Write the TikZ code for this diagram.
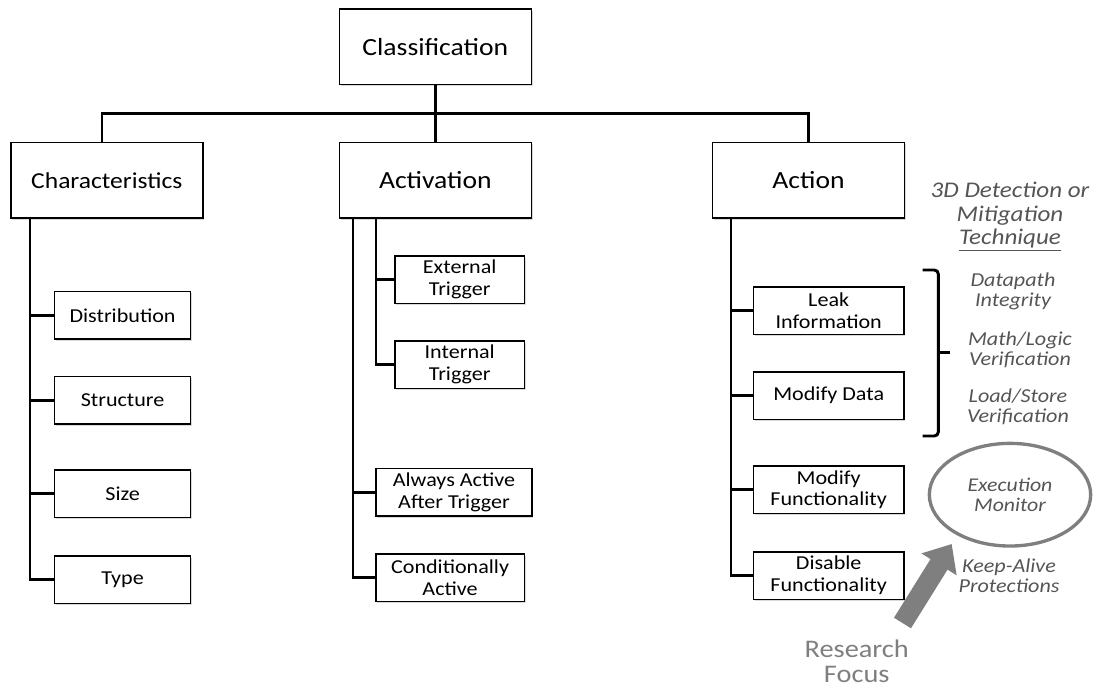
\documentclass[tikz,border=0pt]{standalone}
\usepackage{fontspec}
\setmainfont{Carlito}[FakeStretch=1.12]
\usetikzlibrary{shadows,arrows.meta,shapes.geometric}
\definecolor{notegray}{HTML}{555555}
\definecolor{focusgray}{HTML}{7F7F7F}
\begin{document}
\begin{tikzpicture}[x=0.75pt,y=-0.75pt,
  basebox/.style={draw, line width=1.1pt, fill=white, inner sep=0pt, align=center,
    drop shadow={shadow xshift=1pt, shadow yshift=-1.2pt, opacity=0.3}},
  bigbox/.style={basebox, minimum width=144pt, minimum height=56.6pt, font=\fontsize{18.5}{20}\selectfont},
  smallbox/.style={basebox, minimum height=35.6pt, font=\fontsize{14.8}{16.3}\selectfont},
  conn/.style={line width=2.2pt, line join=miter},
  brack/.style={line width=2.2pt, rounded corners=3pt},
  note/.style={text=notegray, align=center, inner sep=0pt, font=\itshape\fontsize{14.8}{15}\selectfont},
  head/.style={text=notegray, align=center, inner sep=0pt, font=\itshape\fontsize{16.8}{17.5}\selectfont},
  ellip/.style={ellipse, draw=focusgray, line width=2.5pt, minimum width=121pt, minimum height=77pt,
    inner sep=0pt, align=center, text=notegray, font=\itshape\fontsize{14.6}{15}\selectfont},
  focus/.style={text=focusgray, align=center, inner sep=0pt, font=\fontsize{19}{18.75}\selectfont},
  bigarrow/.style={draw=focusgray, line width=15pt, -{Triangle[width=30pt,length=18pt]}}
]
\useasboundingbox (0,0) rectangle (1096,688);

% top levels
\node[bigbox] (cls) at (435.3,46.7) {Classification};
\node[bigbox, font=\fontsize{17.1}{20}\selectfont] (char) at (106.8,180.5) {Characteristics};
\node[bigbox] (act) at (435.3,180.5) {Activation};
\node[bigbox] (action) at (808.5,180.5) {Action};

% characteristics children
\node[smallbox, minimum width=102pt] (dist) at (122.6,315.3) {Distribution};
\node[smallbox, minimum width=102pt] (struc) at (122.6,400.2) {Structure};
\node[smallbox, minimum width=102pt] (size) at (122.6,493.8) {Size};
\node[smallbox, minimum width=102pt] (type) at (122.6,579.8) {Type};

% activation children
\node[smallbox, minimum width=97pt] (ext) at (459.7,279.7) {External\\Trigger};
\node[smallbox, minimum width=97pt] (int) at (459.7,364.7) {Internal\\Trigger};
\node[smallbox, minimum width=117.2pt] (always) at (454,492.2) {Always Active\\After Trigger};
\node[smallbox, minimum width=111.5pt] (cond) at (450.1,577.9) {Conditionally\\Active};

% action children
\node[smallbox, minimum width=113pt] (leak) at (828.7,310.5) {Leak\\Information};
\node[smallbox, minimum width=113pt] (mdata) at (828.7,395.5) {Modify Data};
\node[smallbox, minimum width=113pt] (mfunc) at (828.7,489.7) {Modify\\Functionality};
\node[smallbox, minimum width=113pt] (disable) at (828.7,575.5) {Disable\\Functionality};

% bus
\coordinate (busL) at (102,113.5);
\coordinate (busR) at (808.5,113.5);
\draw[conn] (cls.south) -- (act.north);
\draw[conn] (char.north -| busL) -- (busL) -- (busR) -- (action.north);

% characteristics stem
\coordinate (cst) at (30,0);
\draw[conn] (cst |- char.south) |- (type.west);
\draw[conn] (cst |- dist.west) -- (dist.west);
\draw[conn] (cst |- struc.west) -- (struc.west);
\draw[conn] (cst |- size.west) -- (size.west);

% activation stems
\coordinate (aout) at (353,0);
\coordinate (ain) at (376,0);
\draw[conn] (aout |- act.south) |- (cond.west);
\draw[conn] (aout |- always.west) -- (always.west);
\draw[conn] (ain |- act.south) |- (int.west);
\draw[conn] (ain |- ext.west) -- (ext.west);

% action stem
\coordinate (xst) at (731,0);
\draw[conn] (xst |- action.south) |- (disable.west);
\draw[conn] (xst |- leak.west) -- (leak.west);
\draw[conn] (xst |- mdata.west) -- (mdata.west);
\draw[conn] (xst |- mfunc.west) -- (mfunc.west);

% bracket
\draw[brack] (922.7,270) -- (938.3,270) -- (938.3,436) -- (922.7,436);
\draw[brack] (938.3,352.7) -- (950,352.7);

% right texts
\node[head] (tech) at (1010,216.7) {3D Detection or\\Mitigation\\\underline{Technique}};
\node[note] (dp) at (1013,291.7) {Datapath\\Integrity};
\node[note] (ml) at (1020,350) {Math/Logic\\Verification};
\node[note] (ls) at (1018,406.7) {Load/Store\\Verification};
\node[ellip] (mon) at (1010,494.7) {Execution\\Monitor};
\node[note] (ka) at (1009,576) {Keep-Alive\\Protections};
\node[focus] (rf) at (856.7,660.8) {Research\\Focus};

\coordinate (tail) at (902.5,623);
\coordinate (tip) at (951.7,544);
\draw[bigarrow] (tail) -- (tip);
\end{tikzpicture}
\end{document}
